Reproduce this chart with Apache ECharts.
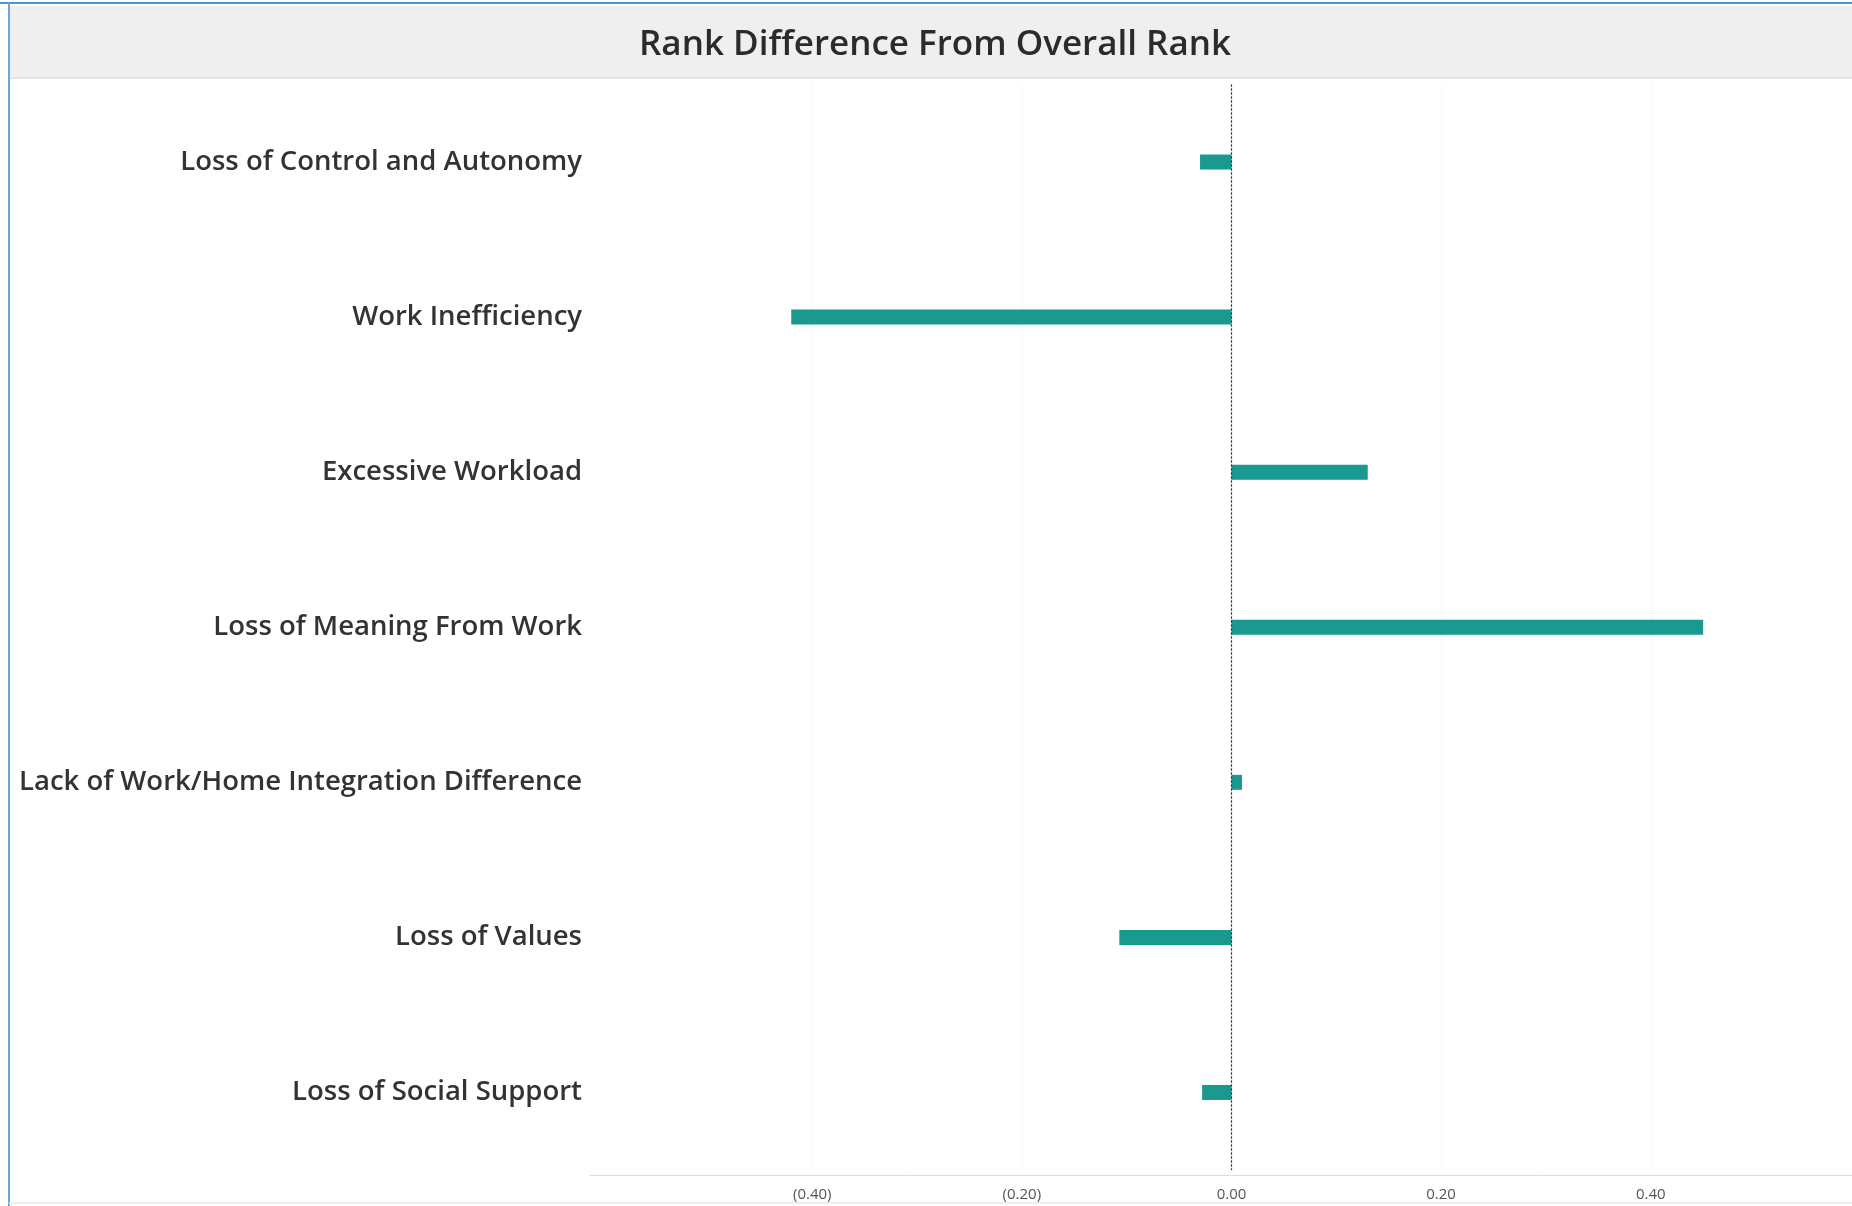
<!DOCTYPE html>
<html>
<head>
<meta charset="utf-8">
<title>Rank Difference From Overall Rank</title>
<script src="https://cdn.jsdelivr.net/npm/echarts@6/dist/echarts.min.js"></script>
<style>
  html, body { margin: 0; padding: 0; background: #ffffff; }
  #chart { width: 1852px; height: 1206px; }
</style>
</head>
<body>
<div id="chart"></div>
<script>
// Burnout drivers, top to bottom
const categories = [
  'Loss of Control and Autonomy',
  'Work Inefficiency',
  'Excessive Workload',
  'Loss of Meaning From Work',
  'Lack of Work/Home Integration Difference',
  'Loss of Values',
  'Loss of Social Support'
];

// Difference from the overall rank for each driver
const rankDiff = [-0.03, -0.42, 0.13, 0.45, 0.01, -0.107, -0.028];

// Labelled ticks on the value axis
const tickValues = [-0.4, -0.2, 0, 0.2, 0.4];

const chart = echarts.init(document.getElementById('chart'), null, { renderer: 'canvas' });

const fmt = v => {
  const s = Math.abs(v).toFixed(2);
  return v < 0 ? '(' + s + ')' : s;
};

chart.setOption({
  backgroundColor: '#ffffff',
  animation: false,
  title: {
    text: 'Rank Difference From Overall Rank',
    left: 639,
    top: 28,
    padding: 0,
    textStyle: {
      fontFamily: 'Open Sans',
      fontWeight: 600,
      fontSize: 35,
      color: '#2b2b2b'
    }
  },
  graphic: [
    // header band
    { type: 'rect', z: -10, shape: { x: 10, y: 6, width: 1842, height: 72 },
      style: { fill: '#efefef' } },
    { type: 'line', z: -9, shape: { x1: 10, y1: 78, x2: 1852, y2: 78 },
      style: { stroke: '#e4e4e4', lineWidth: 2 } },
    // panel frame
    { type: 'line', z: 10, shape: { x1: 0, y1: 3, x2: 1852, y2: 3 },
      style: { stroke: '#4b95d6', lineWidth: 2 } },
    { type: 'line', z: 10, shape: { x1: 9, y1: 3, x2: 9, y2: 1206 },
      style: { stroke: '#6aa6dc', lineWidth: 2 } },
    { type: 'line', z: 10, shape: { x1: 9, y1: 1203, x2: 1852, y2: 1203 },
      style: { stroke: '#e6f0f8', lineWidth: 2 } }
  ],
  grid: {
    left: 590,
    right: 0,
    top: 84.5,
    bottom: 36,
    containLabel: false
  },
  xAxis: {
    type: 'value',
    min: -0.612,
    max: 0.592,
    offset: 5,
    axisLine: { show: true, lineStyle: { color: '#dcdcdc', width: 1 } },
    axisTick: { show: false, customValues: tickValues },
    splitLine: { show: true, lineStyle: { color: '#f7f7f7', width: 1 } },
    axisLabel: {
      customValues: tickValues,
      formatter: fmt,
      fontFamily: 'Open Sans',
      fontSize: 15,
      color: '#555555',
      margin: 12
    }
  },
  yAxis: {
    type: 'category',
    data: categories,
    inverse: true,
    axisLine: { show: true, lineStyle: { color: '#e2e2e2', width: 1 } },
    axisTick: { show: false },
    splitLine: { show: false },
    axisLabel: {
      fontFamily: 'Open Sans',
      fontWeight: 600,
      fontSize: 27.5,
      color: '#333333',
      margin: 8
    }
  },
  series: [{
    type: 'bar',
    data: rankDiff,
    barWidth: 15,
    itemStyle: { color: '#19998f' },
    markLine: {
      silent: true,
      symbol: 'none',
      label: { show: false },
      lineStyle: { color: '#222222', type: [2, 2], width: 1.2 },
      data: [{ xAxis: 0 }]
    }
  }]
});
</script>
</body>
</html>
